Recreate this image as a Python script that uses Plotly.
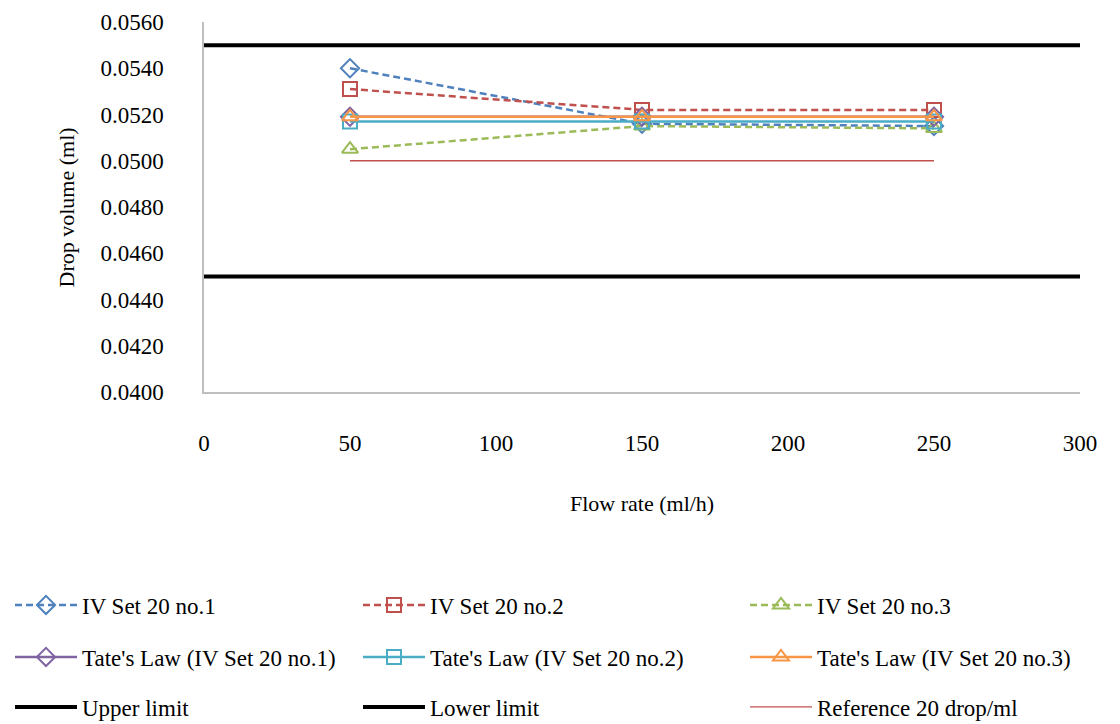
import plotly.graph_objects as go

flow = [50, 150, 250]
iv1 = [0.0540, 0.0516, 0.0515]
iv2 = [0.0531, 0.0522, 0.0522]
iv3 = [0.0505, 0.0515, 0.0514]
tate1 = [0.0519, 0.0519, 0.0519]
tate2 = [0.0517, 0.0517, 0.0517]
tate3 = [0.0519, 0.0519, 0.0519]
limit_x = [0, 300]
upper = [0.0550, 0.0550]
lower = [0.0450, 0.0450]
reference = [0.0500, 0.0500, 0.0500]

names = ["IV Set 20 no.1", "IV Set 20 no.2", "IV Set 20 no.3",
         "Tate's Law (IV Set 20 no.1)", "Tate's Law (IV Set 20 no.2)", "Tate's Law (IV Set 20 no.3)",
         "Upper limit", "Lower limit", "Reference 20 drop/ml"]

FONT = "Liberation Serif, Times New Roman, serif"
fig = go.Figure()

DASH = "7px,4px"
specs = [
    (flow, iv1, "#4F81BD", DASH, 2.5, "diamond-open"),
    (flow, iv2, "#C0504D", DASH, 2.5, "square-open"),
    (flow, iv3, "#9BBB59", DASH, 2.5, "triangle-up-open"),
    (flow, tate1, "#8064A2", "solid", 2.5, "diamond-open"),
    (flow, tate2, "#4BACC6", "solid", 2.5, "square-open"),
    (flow, tate3, "#F79646", "solid", 2.5, "triangle-up-open"),
    (limit_x, upper, "#000000", "solid", 4, None),
    (limit_x, lower, "#000000", "solid", 4, None),
    (flow, reference, "#C0504D", "solid", 1.3, None),
]

legend_names = ["legend"] + ["legend%d" % i for i in range(2, 10)]
for i, (x, y, col, dash, w, sym) in enumerate(specs):
    kw = dict(x=x, y=y, name=names[i], line=dict(color=col, width=w, dash=dash),
              legend=legend_names[i])
    if sym:
        kw["mode"] = "lines+markers"
        kw["marker"] = dict(symbol=sym, size=14, color=col, line=dict(color=col, width=2))
    else:
        kw["mode"] = "lines"
    fig.add_trace(go.Scatter(**kw))

col_x = [10, 358, 745]
row_y = [605, 657, 707]
layout_legends = {}
for i, ln in enumerate(legend_names):
    r, c = divmod(i, 3)
    layout_legends[ln] = dict(
        xref="container", yref="container",
        x=col_x[c] / 1120, y=1 - row_y[r] / 724,
        xanchor="left", yanchor="middle",
        font=dict(family=FONT, size=23, color="black"),
        itemwidth=62, bgcolor="rgba(0,0,0,0)", borderwidth=0,
        itemclick=False,
    )

fig.update_layout(
    width=1120, height=724,
    margin=dict(l=204, r=40, t=22, b=332, autoexpand=False),
    plot_bgcolor="white", paper_bgcolor="white",
    font=dict(family=FONT, size=22, color="black"),
    showlegend=True,
    annotations=[
        dict(text="Drop volume (ml)", textangle=-90, xref="paper", yref="paper",
             x=-0.157, y=0.5, xanchor="center", yanchor="middle", showarrow=False,
             font=dict(family=FONT, size=22, color="black")),
        dict(text="Flow rate (ml/h)", xref="paper", yref="paper",
             x=0.5, y=-0.30, xanchor="center", yanchor="middle", showarrow=False,
             font=dict(family=FONT, size=22, color="black")),
    ],
    **layout_legends,
)
fig.update_xaxes(
    range=[0, 300], dtick=50, tick0=0, automargin=False,
    showgrid=False, zeroline=False,
    showline=True, linecolor="#BFBFBF", linewidth=1.5,
    ticks="", ticklabelstandoff=30, tickfont=dict(family=FONT, size=23),
)
fig.update_yaxes(
    range=[0.0400, 0.0560], dtick=0.002, tick0=0.04, tickformat=".4f", automargin=False,
    showgrid=False, zeroline=False,
    showline=True, linecolor="#BFBFBF", linewidth=1.5,
    ticks="", ticklabelstandoff=34, tickfont=dict(family=FONT, size=23),
)
fig.write_html("out.html")
